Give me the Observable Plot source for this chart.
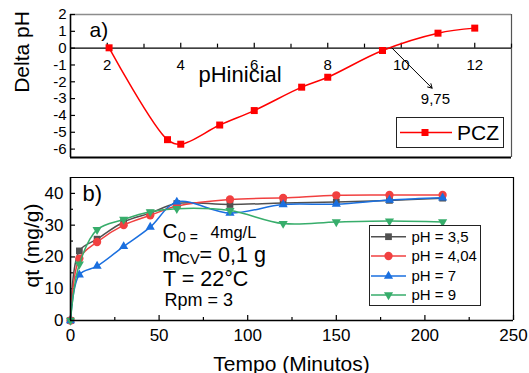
<!DOCTYPE html>
<html><head><meta charset="utf-8">
<script src="https://cdn.jsdelivr.net/npm/d3@7"></script>
<script src="https://cdn.jsdelivr.net/npm/@observablehq/plot@0.6"></script>
<style>
body{margin:0;background:#fff;}
#wrap{position:relative;width:529px;height:373px;overflow:hidden;font-family:Arial,"Liberation Sans",sans-serif;}
.panel{position:absolute;left:0;}
.legend{position:absolute;box-sizing:border-box;border:1px solid #222;background:#fff;}
</style></head><body><div id="wrap"></div>
<script>
// ---------- data ----------
const pzcPhInitial = [2.05, 3.64, 4.0, 5.06, 6.0, 7.29, 8.0, 9.49, 11.0, 12.0];
const pzcDeltaPh   = [0.02, -5.44, -5.71, -4.57, -3.71, -2.32, -1.73, -0.14, 0.89, 1.19];
const pzcValue = 9.75;
const pzcLabel = "9,75";
const pzcLegend = "PCZ";

const timeMin = [0, 5, 15, 30, 45, 60, 90, 120, 150, 180, 210];
const qtPh35  = [0, 21.9, 25.6, 31.0, 33.8, 36.8, 36.5, 37.0, 37.3, 37.8, 38.5];
const qtPh404 = [0, 19.5, 24.7, 30.0, 33.1, 36.0, 38.1, 38.6, 39.4, 39.5, 39.5];
const qtPh7   = [0, 14.4, 17.1, 23.3, 29.4, 37.3, 33.8, 36.5, 36.6, 37.9, 38.6];
const qtPh9   = [0, 17.7, 28.6, 31.8, 34.2, 35.2, 34.6, 30.5, 31.0, 31.3, 31.0];
const seriesNames = ["pH = 3,5", "pH = 4,04", "pH = 7", "pH = 9"];
const seriesColors = ["#515151", "#F14040", "#1A6FDF", "#37AD6B"];

const topYTicks = [2, 1, 0, -1, -2, -3, -4, -5, -6];
const topXTicks = [2, 4, 6, 8, 10, 12];
const topXMinor = [3, 5, 7, 9, 11, 13];
const botXTicks = [0, 50, 100, 150, 200, 250];
const botXMinor = [25, 75, 125, 175, 225];
const botYTicks = [0, 10, 20, 30, 40];
const botYMinor = [5, 15, 25, 35];

// ---------- helpers ----------
const FONT = 'Arial, "Liberation Sans", sans-serif';
const W = 529;
const sq3 = Math.sqrt(3);
const triangleDown = {draw(ctx, size) {
  const y = -Math.sqrt(size / (sq3 * 3));
  ctx.moveTo(0, -y * 2); ctx.lineTo(-sq3 * y, y); ctx.lineTo(sq3 * y, y); ctx.closePath();
}};
const seriesSymbols = ["square", "circle", "triangle", triangleDown];
const seriesR = [3.8, 4.15, 3.4, 3.4];

function label(P, txt, x, y, o = {}) {
  return Plot.text([txt], {frameAnchor: "top-left", dx: x - P.mL, dy: y - P.mT,
    textAnchor: "start", lineAnchor: "bottom", fill: "#000", fontFamily: FONT, ...o});
}

const wrap = document.getElementById("wrap");

// ---------- top panel ----------
const T = {h: 170, mL: 70, mR: 18, mT: 14, mB: 13, xDom: [1, 13], yDom: [-6.5, 2]};
const tInW = W - T.mL - T.mR, tInH = T.h - T.mT - T.mB;
const Y0 = T.mT + (T.yDom[1] - 0) / (T.yDom[1] - T.yDom[0]) * tInH;
const topData = pzcPhInitial.map((x, i) => ({x, y: pzcDeltaPh[i]}));

const topChart = Plot.plot({
  width: W, height: T.h, marginLeft: T.mL, marginRight: T.mR, marginTop: T.mT, marginBottom: T.mB,
  x: {domain: T.xDom, axis: null}, y: {domain: T.yDom, axis: null},
  style: {fontFamily: FONT, background: "transparent", overflow: "visible"},
  marks: [
    Plot.ruleY([T.yDom[1]], {stroke: "#8c8c8c", strokeWidth: 1.5}),
    Plot.ruleX([T.xDom[1]], {stroke: "#555", strokeWidth: 1.2}),
    Plot.ruleY([0], {stroke: "#000", strokeWidth: 1.3}),
    Plot.tickY(topYTicks, {y: d => d, insetRight: tInW - 5, stroke: "#000", strokeWidth: 1.2}),
    Plot.tickX(topXTicks, {x: d => d, insetTop: Y0 - T.mT - 5, insetBottom: T.h - T.mB - Y0, stroke: "#000", strokeWidth: 1.2}),
    Plot.tickX(topXMinor, {x: d => d, insetTop: Y0 - T.mT - 4, insetBottom: T.h - T.mB - Y0, stroke: "#000", strokeWidth: 1.2}),
    Plot.text(topYTicks, {y: d => d, text: d => String(d), frameAnchor: "left", dx: -4, textAnchor: "end", lineAnchor: "middle", fontSize: 15, fill: "#000"}),
    Plot.text(topXTicks, {x: d => d, y: 0, text: d => String(d), dy: 17, lineAnchor: "middle", fontSize: 15, fill: "#000"}),
    Plot.line(topData, {x: "x", y: "y", stroke: "#ff0000", strokeWidth: 1.5, curve: "catmull-rom"}),
    Plot.dot(topData, {x: "x", y: "y", symbol: "square", r: 3.95, fill: "#ff0000", stroke: null}),
    Plot.arrow([{x1: pzcValue, y1: 0, x2: 10.84, y2: -2.38}], {x1: "x1", y1: "y1", x2: "x2", y2: "y2", stroke: "#000", strokeWidth: 1, headLength: 7}),
    Plot.text([pzcLabel], {x: 10.93, y: -3.03, text: d => d, fontSize: 15, lineAnchor: "middle", fill: "#000"}),
    Plot.ruleX([T.xDom[0]], {stroke: "#000", strokeWidth: 1.6}),
    Plot.ruleY([T.yDom[0]], {stroke: "#000", strokeWidth: 2}),
    label(T, "a)", 89, 36.5, {fontSize: 21}),
    label(T, "pHinicial", 198, 81.5, {fontSize: 22}),
    label(T, "Delta pH", 22, 51.5, {fontSize: 21, rotate: -90, textAnchor: "middle", lineAnchor: "middle"})
  ]
});
topChart.classList.add("panel"); topChart.style.top = "0px";
wrap.appendChild(topChart);

// ---------- bottom panel ----------
const B = {h: 203, top: 170, mL: 70, mR: 16, mT: 7, mB: 53, xDom: [0, 250], yDom: [0, 45]};
const bInW = W - B.mL - B.mR, bInH = B.h - B.mT - B.mB;
const seriesValues = [qtPh35, qtPh404, qtPh7, qtPh9];
const botData = seriesValues.flatMap((vals, s) => timeMin.map((t, i) => ({t, q: vals[i], s})));

const seriesMarks = seriesValues.flatMap((vals, s) => {
  const d = botData.filter(e => e.s === s);
  return [
    Plot.line(d, {x: "t", y: "q", stroke: seriesColors[s], strokeWidth: 1.5, curve: "catmull-rom"}),
    Plot.dot(d, {x: "t", y: "q", symbol: seriesSymbols[s], r: seriesR[s], fill: seriesColors[s], stroke: null})
  ];
});

const botChart = Plot.plot({
  width: W, height: B.h, marginLeft: B.mL, marginRight: B.mR, marginTop: B.mT, marginBottom: B.mB,
  x: {domain: B.xDom, axis: null}, y: {domain: B.yDom, axis: null},
  style: {fontFamily: FONT, background: "transparent", overflow: "visible"},
  marks: [
    Plot.ruleY([B.yDom[1]], {stroke: "#000", strokeWidth: 1.2}),
    Plot.ruleX([B.xDom[1]], {stroke: "#000", strokeWidth: 1.2}),
    Plot.tickY(botYTicks, {y: d => d, insetRight: bInW - 5, stroke: "#000", strokeWidth: 1.2}),
    Plot.tickY(botYMinor, {y: d => d, insetRight: bInW - 3, stroke: "#000", strokeWidth: 1.2}),
    Plot.tickX(botXTicks, {x: d => d, insetTop: bInH - 5, stroke: "#000", strokeWidth: 1.2}),
    Plot.tickX(botXMinor, {x: d => d, insetTop: bInH - 3, stroke: "#000", strokeWidth: 1.2}),
    Plot.text(botYTicks, {y: d => d, text: d => String(d), frameAnchor: "left", dx: -7, textAnchor: "end", lineAnchor: "middle", fontSize: 17, fill: "#000"}),
    Plot.text(botXTicks, {x: d => d, text: d => String(d), frameAnchor: "bottom", dy: 15, lineAnchor: "middle", fontSize: 17, fill: "#000"}),
    ...seriesMarks,
    Plot.ruleX([B.xDom[0]], {stroke: "#000", strokeWidth: 1.6}),
    Plot.ruleY([B.yDom[0]], {stroke: "#000", strokeWidth: 1.6}),
    label(B, "b)", 82, 30, {fontSize: 22}),
    label(B, "qt (mg/g)", 32, 75, {fontSize: 21, rotate: -90, textAnchor: "middle", lineAnchor: "middle"}),
    label(B, "Tempo (Minutos)", 291, 200, {fontSize: 21, textAnchor: "middle"}),
    label(B, "C", 162, 67.7, {fontSize: 20.5}),
    label(B, "0 =", 177.5, 71.5, {fontSize: 14}),
    label(B, "4mg/L", 210, 67.7, {fontSize: 16.5}),
    label(B, "m", 162, 91.7, {fontSize: 21}),
    label(B, "CV", 178.5, 93, {fontSize: 15}),
    label(B, "= 0,1 g", 199, 91.7, {fontSize: 21.5}),
    label(B, "T = 22°C", 162.5, 115.7, {fontSize: 21.5}),
    label(B, "Rpm = 3", 164, 135.7, {fontSize: 18})
  ]
});
botChart.classList.add("panel"); botChart.style.top = B.top + "px";
wrap.appendChild(botChart);

// ---------- legends ----------
function legend(left, topPx, w, h, items, fontSize, lineX1, lineX2, markX, textX, rowYs) {
  const div = document.createElement("div");
  div.className = "legend";
  Object.assign(div.style, {left: left + "px", top: topPx + "px", width: w + "px", height: h + "px"});
  const svg = d3.create("svg").attr("width", w - 2).attr("height", h - 2).style("display", "block");
  items.forEach((it, i) => {
    const y = rowYs[i];
    svg.append("line").attr("x1", lineX1).attr("x2", lineX2).attr("y1", y).attr("y2", y)
      .attr("stroke", it.color).attr("stroke-width", 1.5);
    const sym = typeof it.symbol === "string"
      ? {square: d3.symbolSquare, circle: d3.symbolCircle, triangle: d3.symbolTriangle}[it.symbol]
      : it.symbol;
    svg.append("path").attr("d", d3.symbol(sym, it.r * it.r * Math.PI)())
      .attr("transform", `translate(${markX},${y})`).attr("fill", it.color);
    svg.append("text").attr("x", textX).attr("y", y).attr("dy", "0.35em")
      .attr("font-size", fontSize).attr("font-family", FONT).attr("fill", "#000").text(it.name);
  });
  div.appendChild(svg.node());
  wrap.appendChild(div);
}
legend(396, 117, 108, 31, [{name: pzcLegend, color: "#ff0000", symbol: "square", r: 3.95}],
  21, 3, 55, 28, 60, [14.5]);
legend(369, 225, 112, 81,
  seriesNames.map((name, i) => ({name, color: seriesColors[i], symbol: seriesSymbols[i], r: seriesR[i]})),
  15, 1, 36, 18.5, 41.5, [10.7, 30, 50, 69]);
</script></body></html>
